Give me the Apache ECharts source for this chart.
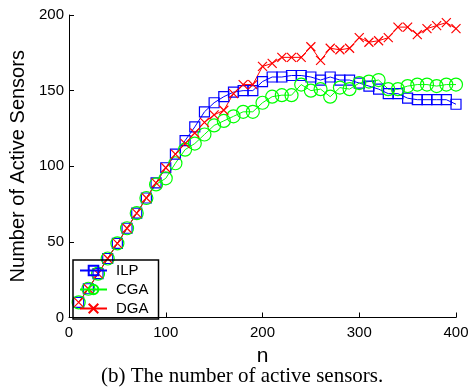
<!DOCTYPE html>
<html><head><meta charset="utf-8">
<script src="https://cdn.jsdelivr.net/npm/echarts@6/dist/echarts.min.js"></script>
<style>html,body{margin:0;padding:0;background:#fff}#c{width:473px;height:387px}</style>
</head><body><div id="c"></div>
<script>
const nValues = [10,20,30,40,50,60,70,80,90,100,110,120,130,140,150,160,170,180,190,200,210,220,230,240,250,260,270,280,290,300,310,320,330,340,350,360,370,380,390,400];
const ilp = [10,19,29,39,49,59,69,79,89,99,108,117,126,136,142,146,149,150,150,156,159,159,160,160,159,157,159,157,157,155,153,151,148,148,145,144,144,144,144,141];
const cga = [10,19,29,39,49,59,69,79,88,92,102,111,115,121,127,130,133,136,136,142,146,147,147,154,150,151,146,152,151,155,156,157,151,151,153,154,154,153,154,154];
const dga = [10,19,29,39,49,59,69,79,89,99,108,115,122,129,134,137,148,154,154,166,168,172,172,172,179,170,178,177,178,185,182,183,185,192,192,187,191,193,195,191];
const xTicks = [0,100,200,300,400];
const yTicks = [0,50,100,150,200];
const seriesNames = ['ILP','CGA','DGA'];

function pairs(ys){ return nValues.map((n,i)=>[n, ys[i]]); }

const chart = echarts.init(document.getElementById('c'));
const font = 'Liberation Sans, Arial, sans-serif';
const crossPath = 'path://M0,0L10,10M10,0L0,10';
chart.setOption({
  animation:false,
  backgroundColor:'#fff',
  grid:{left:69,right:17,top:15,bottom:69.5},
  xAxis:{type:'value',min:xTicks[0],max:xTicks[xTicks.length-1],interval:100,
    name:'n',nameLocation:'middle',nameGap:19,
    nameTextStyle:{fontFamily:font,fontSize:21,color:'#000'},
    axisLine:{lineStyle:{color:'#000',width:1}},
    axisTick:{inside:true,length:5,lineStyle:{color:'#000'}},
    axisLabel:{fontFamily:font,fontSize:15,color:'#000',margin:8},
    splitLine:{show:false}},
  yAxis:{type:'value',min:yTicks[0],max:yTicks[yTicks.length-1],interval:50,
    name:'Number of Active Sensors',nameLocation:'middle',nameGap:40,
    nameTextStyle:{fontFamily:font,fontSize:20,color:'#000'},
    axisLine:{show:true,lineStyle:{color:'#000',width:1}},
    axisTick:{show:true,inside:true,length:5,lineStyle:{color:'#000'}},
    axisLabel:{fontFamily:font,fontSize:15,color:'#000',margin:5},
    splitLine:{show:false}},
  legend:{left:73,top:260,orient:'vertical',itemGap:4,itemWidth:27,itemHeight:12,
    backgroundColor:'rgba(0,0,0,0)',borderColor:'#000',borderWidth:1.5,borderRadius:0,
    padding:[3,10,3,6],
    textStyle:{fontFamily:font,fontSize:15,color:'#000',padding:[0,0,0,4]},
    data:seriesNames},
  series:[
    {name:seriesNames[0],type:'line',data:pairs(ilp),symbol:'rect',symbolSize:10,
     lineStyle:{color:'#0000ff',width:1},
     itemStyle:{color:'rgba(0,0,0,0)',borderColor:'#0000ff',borderWidth:1.2}},
    {name:seriesNames[1],type:'line',data:pairs(cga),symbol:'circle',symbolSize:13,
     lineStyle:{color:'#00ff00',width:1},
     itemStyle:{color:'rgba(0,0,0,0)',borderColor:'#00ff00',borderWidth:1.2}},
    {name:seriesNames[2],type:'line',data:pairs(dga),symbol:crossPath,symbolSize:9,
     lineStyle:{color:'#ff0000',width:1},
     itemStyle:{color:'rgba(0,0,0,0)',borderColor:'#ff0000',borderWidth:1.2}}
  ],
  graphic:[{type:'text',left:101,top:366,
    style:{text:'(b) The number of active sensors.',font:'21px "Liberation Serif", "Times New Roman", serif',fill:'#000'}}]
});
</script></body></html>
